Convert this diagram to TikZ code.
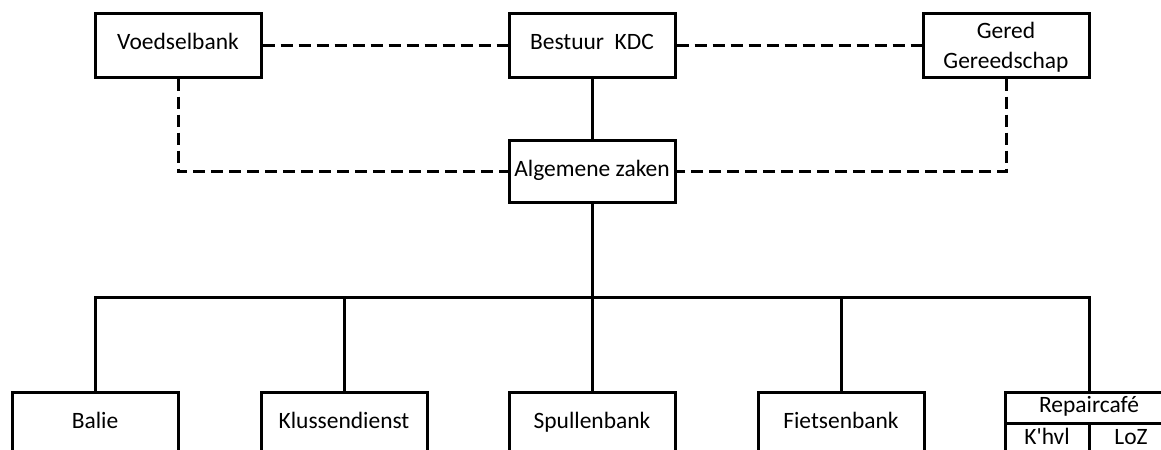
\documentclass[tikz,border=0pt]{standalone}
\usepackage{fontspec}
\setmainfont{Carlito}
\usepackage{tikz}
\usetikzlibrary{positioning,calc}
\tikzstyle{unit}=[draw, line width=2.25pt, minimum width=124.5pt, minimum height=48pt, inner sep=0pt, align=center, font=\fontsize{17.6pt}{22pt}\selectfont, text depth=0.1em]
\tikzstyle{single}=[unit, text height=0.78em]
\tikzstyle{double}=[unit, text height=35.7pt]
\tikzstyle{cell}=[single, minimum height=24pt]
\tikzstyle{link}=[line width=2.25pt]
\tikzstyle{loose}=[line width=2.25pt, dash pattern=on 9pt off 4.5pt]

\begin{document}
\begin{tikzpicture}[x=0.75pt, y=-0.75pt]
  \useasboundingbox (0,0) rectangle (1161,450);
  \clip (0,0) rectangle (1161,450);

  % top row
  \node (voedsel)[single] at (178,45) {Voedselbank};
  \node (bestuur)[single] at (592,45) {Bestuur~~KDC};
  \node (gered)[double] at (1006,45) {Gered\\Gereedschap};
  \node (algemeen)[single, minimum height=47pt] at (592,171.5) {Algemene zaken};

  % departments
  \node (balie)[single] at (95,424) {Balie};
  \node (klus)[single] at (344,424) {Klussendienst};
  \node (spullen)[single] at (592,424) {Spullenbank};
  \node (fiets)[single] at (841,424) {Fietsenbank};
  \node (repair)[cell, minimum width=126pt, minimum height=23.25pt] at (1089,407.5) {Repaircafé};
  \node (khvl)[cell, minimum width=63pt] at (1047,439.5) {K\textquotesingle hvl};
  \node (loz)[cell, minimum width=63pt] at (1131,439.5) {LoZ};
  \coordinate (bus) at (592,297);

  \draw[link] (bestuur) -- (algemeen);
  \draw[link] (algemeen) -- (bus);
  \foreach \n in {balie,klus,spullen,fiets,repair}
    \draw[link] (bus) -| (\n.north);

  \draw[loose] (voedsel) -- (bestuur) -- (gered);
  \draw[loose] (voedsel.south) |- (algemeen.west);
  \draw[loose] (gered.south) |- (algemeen.east);
\end{tikzpicture}
\end{document}
